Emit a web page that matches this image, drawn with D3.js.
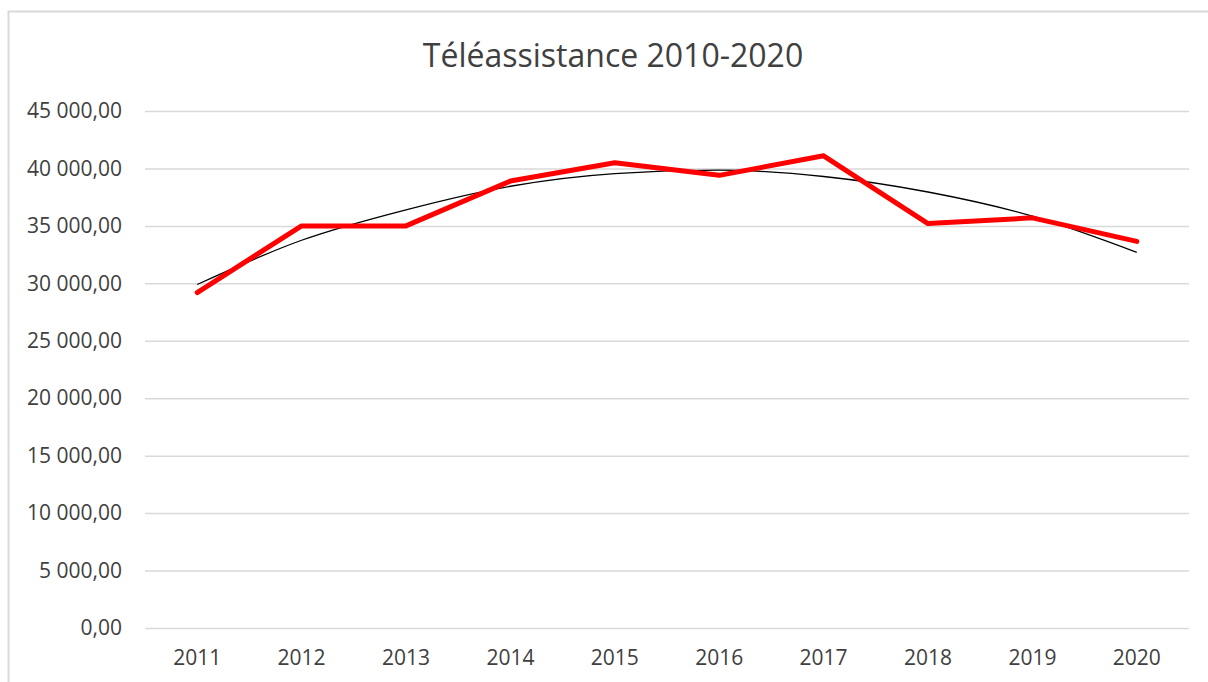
<!DOCTYPE html>
<html>
<head>
<meta charset="utf-8">
<script src="https://cdn.jsdelivr.net/npm/d3@7"></script>
<style>
  body { margin: 0; background: #fff; }
  text { font-family: "Open Sans", "Noto Sans", sans-serif; fill: #404040; }
</style>
</head>
<body>
<div id="chart"></div>
<script>
const svgWidth = 1208;
const svgHeight = 682;
const margin = {top: 111, right: 19, bottom: 54, left: 145};
const width = svgWidth - margin.left - margin.right;
const height = svgHeight - margin.top - margin.bottom;

// values
const years = ["2011","2012","2013","2014","2015","2016","2017","2018","2019","2020"];
const valeurs = [29200, 35000, 35000, 38900, 40500, 39400, 41100, 35200, 35700, 33650];
const tendance = [29900, 33750, 36400, 38450, 39550, 39850, 39300, 37950, 35850, 32700];
const yTicks = [0, 5000, 10000, 15000, 20000, 25000, 30000, 35000, 40000, 45000];

const fmt = function(v){
    return d3.format(",.2f")(v).replace(/,/g, " ").replace(".", ",");
};

const svg0 = d3.select("#chart").append("svg")
    .attr("width", svgWidth)
    .attr("height", svgHeight);

// chart border
svg0.append("rect")
    .attr("x", 8.5).attr("y", 11.5)
    .attr("width", 1220).attr("height", 700)
    .attr("fill", "none")
    .attr("stroke", "#d9d9d9")
    .attr("stroke-width", 2);

svg0.append("text")
    .attr("x", 613).attr("y", 67)
    .attr("text-anchor", "middle")
    .attr("font-size", 32)
    .text("Téléassistance 2010-2020");

const svg = svg0.append("g")
    .attr("transform", "translate(" + margin.left + "," + margin.top + ")");

const xscale = d3.scaleBand().domain(years).range([0, width]);
const yscale = d3.scaleLinear().domain([0, 45000]).range([height, 0]);

// gridlines
const yaxis = d3.axisLeft(yscale).tickValues(yTicks).tickSize(-width).tickFormat(fmt).tickPadding(23);
svg.append("g")
    .attr("class", "yaxis")
    .call(yaxis)
    .call(g => g.select(".domain").remove())
    .call(g => g.selectAll("line").attr("stroke", "#d9d9d9").attr("stroke-width", 1.5))
    .call(g => g.selectAll("text").attr("font-size", 21).attr("fill", "#404040").attr("font-family", "\"Open Sans\", sans-serif"));

const xaxis = d3.axisBottom(xscale).tickSize(0).tickPadding(22);
svg.append("g")
    .attr("transform", "translate(0," + height + ")")
    .call(xaxis)
    .call(g => g.select(".domain").remove())
    .call(g => g.selectAll("text").attr("font-size", 21).attr("fill", "#404040").attr("font-family", "\"Open Sans\", sans-serif"));

const cx = function(d, i){ return xscale(years[i]) + xscale.bandwidth() / 2; };

// trend line
const trendline = d3.line()
    .x(cx)
    .y(function(d){ return yscale(d); })
    .curve(d3.curveMonotoneX);

svg.append("path")
    .datum(tendance)
    .attr("fill", "none")
    .attr("stroke", "#000")
    .attr("stroke-width", 1.3)
    .attr("d", trendline);

// main series
const line = d3.line()
    .x(cx)
    .y(function(d){ return yscale(d); });

svg.append("path")
    .datum(valeurs)
    .attr("fill", "none")
    .attr("stroke", "#ff0000")
    .attr("stroke-width", 5)
    .attr("stroke-linejoin", "round")
    .attr("stroke-linecap", "round")
    .attr("d", line);
</script>
</body>
</html>
